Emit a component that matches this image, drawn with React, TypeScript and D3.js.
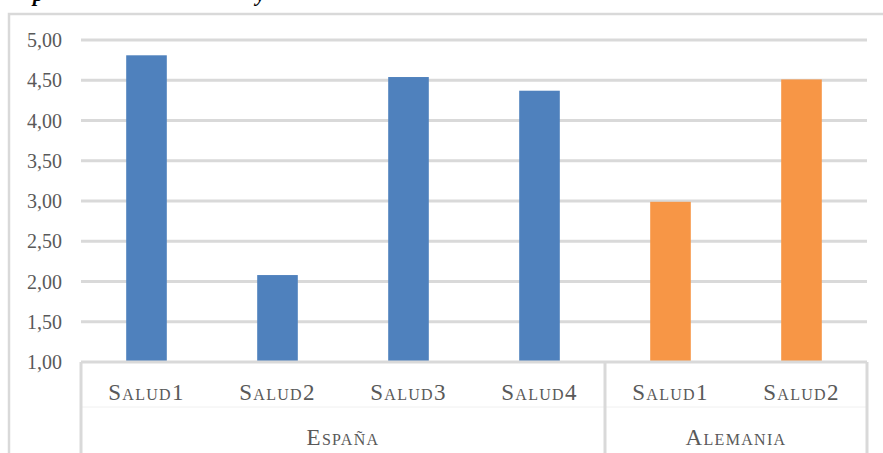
import React from "react";
import * as d3 from "d3";

// Mean health scores per item, grouped by country
const countries = ["España", "Alemania"];
const items = ["Salud1", "Salud2", "Salud3", "Salud4", "Salud1", "Salud2"];
const itemCountry = [0, 0, 0, 0, 1, 1];
const values = [4.81, 2.08, 4.54, 4.37, 2.99, 4.51];
const countryColors = ["#4f81bd", "#f79646"];
const yTicks = [1, 1.5, 2, 2.5, 3, 3.5, 4, 4.5, 5];

const W = 883;
const H = 453;
const plotLeft = 81;
const plotRight = 867;
const plotTop = 40;
const plotBottom = 362;
const serif = "'Liberation Serif', 'Times New Roman', serif";
const grid = "#d9d9d9";
const textColor = "#595959";

// Small-caps label: first letter full size, remaining letters as reduced capitals
function SmallCaps({ x, y, text }: { x: number; y: number; text: string }) {
  const head = text.slice(0, 1).toUpperCase();
  const rest = text.slice(1);
  const parts: { s: string; big: boolean }[] = [];
  for (const ch of rest) {
    const big = /[0-9]/.test(ch);
    const last = parts[parts.length - 1];
    if (last && last.big === big) last.s += ch;
    else parts.push({ s: ch, big });
  }
  return (
    <text x={x} y={y} textAnchor="middle" fill={textColor} fontSize={23} letterSpacing={1.3}>
      <tspan>{head}</tspan>
      {parts.map((p, i) => (
        <tspan key={i} fontSize={p.big ? 23 : 16}>
          {p.big ? p.s : p.s.toUpperCase()}
        </tspan>
      ))}
    </text>
  );
}

export default function App() {
  const x = d3
    .scaleBand<number>()
    .domain(d3.range(items.length))
    .range([plotLeft, plotRight])
    .paddingInner(0.69)
    .paddingOuter(0.345);
  const step = x.step();
  const y = d3.scaleLinear().domain([1, 5]).range([plotBottom, plotTop]);
  const fmt = (v: number) => d3.format(".2f")(v).replace(".", ",");

  // group spans along the category axis
  const groups = countries.map((name, ci) => {
    const idx = itemCountry.map((c, i) => (c === ci ? i : -1)).filter((i) => i >= 0);
    const x0 = (x(idx[0]) as number) - step * 0.345;
    const x1 = (x(idx[idx.length - 1]) as number) + x.bandwidth() + step * 0.345;
    return { name, x0, x1 };
  });

  return (
    <svg
      width={W}
      height={H}
      style={{ position: "absolute", left: 0, top: 0, background: "#fff" }}
      fontFamily={serif}
    >
      {/* caption above the chart frame */}
      <text y={1} fontSize={21} fontStyle="italic" fontWeight="bold" fill="#000">
        <tspan x={33}>p</tspan>
        <tspan x={256}>y</tspan>
      </text>

      {/* chart frame */}
      <rect x={9} y={14} width={W + 20} height={H + 20} fill="none" stroke={grid} strokeWidth={2.5} />

      {/* gridlines and y labels */}
      {yTicks.map((t) => (
        <g key={t}>
          {t > 1 && (
            <line x1={plotLeft} x2={plotRight} y1={y(t)} y2={y(t)} stroke={grid} strokeWidth={3} />
          )}
          <text
            x={62}
            y={y(t)}
            dy="0.35em"
            textAnchor="end"
            fontSize={20}
            fill={textColor}
          >
            {fmt(t)}
          </text>
        </g>
      ))}

      {/* bars */}
      {values.map((v, i) => (
        <rect
          key={i}
          x={x(i)}
          y={y(v)}
          width={x.bandwidth()}
          height={plotBottom - y(v)}
          fill={countryColors[itemCountry[i]]}
        />
      ))}

      {/* category axis */}
      <line x1={plotLeft} x2={plotRight} y1={plotBottom} y2={plotBottom} stroke={grid} strokeWidth={3} />
      <line x1={plotLeft} x2={plotRight} y1={407} y2={407} stroke="#f0f0f0" strokeWidth={1} />
      {groups.map((g, gi) => (
        <g key={gi}>
          {gi === 0 && (
            <line x1={g.x0} x2={g.x0} y1={plotBottom} y2={H} stroke={grid} strokeWidth={3} />
          )}
          <line x1={g.x1} x2={g.x1} y1={plotBottom} y2={H} stroke={grid} strokeWidth={3} />
          <SmallCaps x={(g.x0 + g.x1) / 2} y={445} text={g.name} />
        </g>
      ))}
      {items.map((it, i) => (
        <SmallCaps key={i} x={(x(i) as number) + x.bandwidth() / 2} y={400} text={it} />
      ))}
    </svg>
  );
}
